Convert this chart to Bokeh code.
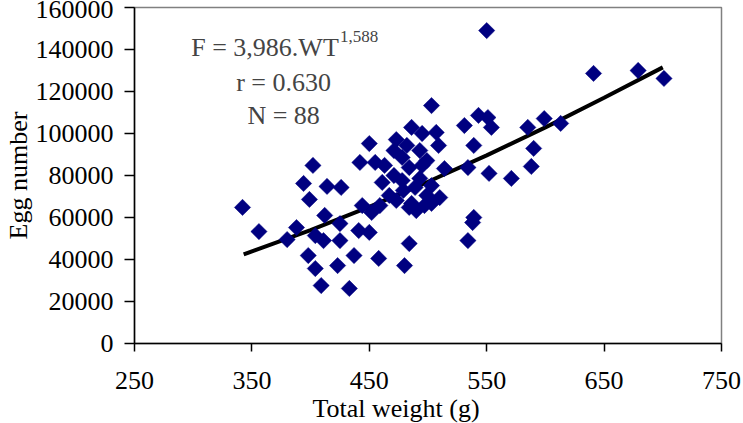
from bokeh.plotting import figure
from bokeh.models import Label, FixedTicker, BasicTickFormatter, Range1d, Title
from bokeh.embed import file_html
from bokeh.resources import INLINE
import math

# Scatter data: total weight (g) vs egg number
weight = [342, 356, 388, 380, 402, 394, 414, 399, 412, 404, 411, 398, 404, 409,
          425, 425, 437, 458, 423, 433, 441, 450, 444, 452, 426, 442, 455, 450,
          463, 473, 461, 478, 484, 478, 489, 495, 486, 495, 503, 507, 509, 503,
          486, 503, 484, 484, 480, 510, 514, 531, 543, 551, 554, 539, 534, 552,
          571, 585, 590, 588, 599, 613, 641, 679, 701, 539, 538, 534, 550, 497,
          471, 482, 493, 499, 471, 479, 493, 499, 473, 490, 467, 459]
eggs = [64800, 53300, 55200, 49500, 84800, 76200, 74800, 68600, 61000, 51400,
        49000, 41900, 35700, 27600, 57100, 49000, 41900, 40500, 37100, 26200,
        53800, 52900, 65700, 62400, 74300, 86200, 86200, 95200, 84800, 97100,
        76700, 88600, 83800, 77600, 74300, 84800, 102900, 100000, 113300, 100500,
        94300, 75200, 66700, 66700, 64800, 47600, 37100, 69500, 83300, 103800,
        108600, 107600, 102900, 94300, 83800, 81000, 78600, 102900, 92900, 84300,
        107100, 104800, 128600, 130000, 126200, 60000, 57600, 49000, 149000, 65700,
        91900, 94300, 91900, 87100, 80000, 72900, 78600, 70500, 68100, 63300,
        70500, 65700]

# Fitted power curve
fit_x = [343, 400, 450, 500, 550, 600, 650, 700]
fit_y = [42400, 54000, 65100, 77000, 89600, 102900, 117000, 131500]

x_ticks = [250, 350, 450, 550, 650, 750]
y_ticks = [0, 20000, 40000, 60000, 80000, 100000, 120000, 140000, 160000]

FONT = "Liberation Serif"
FS = "26px"

p = figure(width=743, height=423, output_backend="svg", toolbar_location=None,
           x_range=Range1d(250, 750), y_range=Range1d(0, 160000),
           min_border_left=132, min_border_right=22, min_border_top=7,
           min_border_bottom=80)
p.background_fill_color = "white"
p.border_fill_color = "white"
p.outline_line_color = "#808080"
p.outline_line_width = 1.5
p.xgrid.visible = False
p.ygrid.visible = False

p.line(fit_x, fit_y, line_color="black", line_width=4)
p.scatter(weight, eggs, marker="square", angle=math.pi / 4, size=11.5,
          fill_color="#000080", line_color="#000080", line_width=0.5)

for ax in (p.xaxis[0], p.yaxis[0]):
    ax.axis_line_color = "black"
    ax.axis_line_width = 1.5
    ax.major_tick_line_color = "black"
    ax.major_tick_line_width = 1.5
    ax.minor_tick_line_color = None
    ax.major_tick_in = 0
    ax.major_label_text_font = FONT
    ax.major_label_text_font_size = FS
    ax.major_label_text_color = "black"
    ax.axis_label_text_font = FONT
    ax.axis_label_text_font_size = FS
    ax.axis_label_text_font_style = "normal"
    ax.axis_label_text_color = "black"
    ax.formatter = BasicTickFormatter(use_scientific=False)

p.xaxis.ticker = FixedTicker(ticks=x_ticks)
p.yaxis.ticker = FixedTicker(ticks=y_ticks)
p.xaxis.major_tick_out = 8
p.yaxis.major_tick_out = 10
p.xaxis.major_label_standoff = 20
p.yaxis.major_label_standoff = 11
p.yaxis.axis_label = "Egg number"
p.yaxis.axis_label_standoff = 0

# x-axis title (placed slightly left of centre as in the original)
xt = Title(text="Total weight (g)", align="left", offset=178, standoff=0,
           text_font=FONT, text_font_size=FS, text_font_style="normal",
           text_color="black")
p.add_layout(xt, "below")

p.add_layout(Label(x=424, y=140900, text="F = 3,986.WT", text_font=FONT,
                   text_font_size=FS, text_align="right", text_baseline="middle"))
p.add_layout(Label(x=425, y=146400, text="1,588", text_font=FONT,
                   text_font_size="17px", text_align="left", text_baseline="middle"))
p.add_layout(Label(x=377, y=124300, text="r = 0.630", text_font=FONT,
                   text_font_size=FS, text_align="center", text_baseline="middle"))
p.add_layout(Label(x=377, y=108600, text="N = 88", text_font=FONT,
                   text_font_size=FS, text_align="center", text_baseline="middle"))

open("out.html", "w").write(file_html(p, INLINE))
